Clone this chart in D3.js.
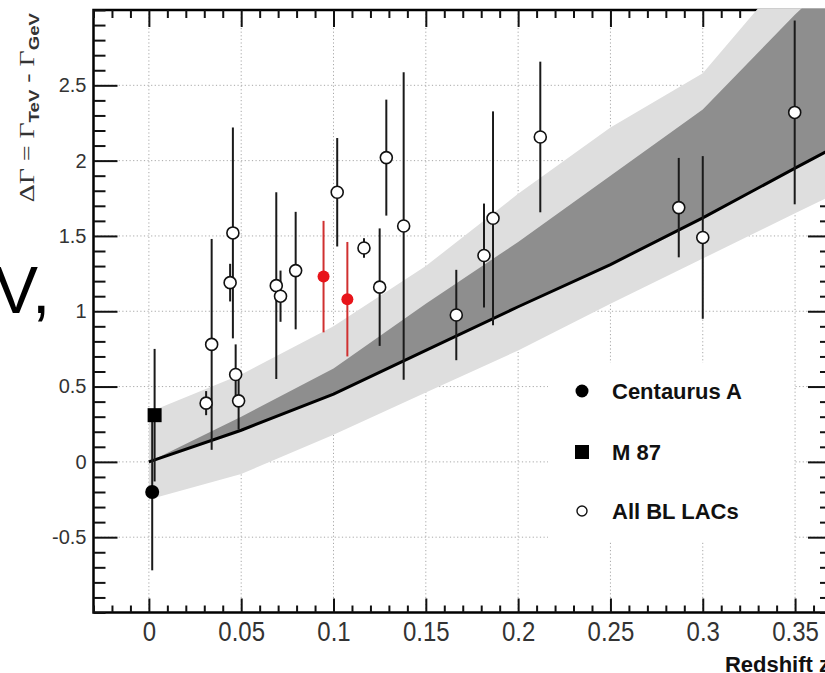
<!DOCTYPE html>
<html>
<head>
<meta charset="utf-8">
<script src="https://cdn.jsdelivr.net/npm/d3@7"></script>
<style>
  html, body { margin: 0; padding: 0; background: #fff; }
  svg { display: block; }
</style>
</head>
<body>
<div id="chart"></div>
<script>
// Model band (EBL absorption prediction) sampled along redshift
const bandZ     = [0, 0.05, 0.1, 0.15, 0.2, 0.25, 0.3, 0.35, 0.37];
const lightLow  = [-0.25, -0.08, 0.18, 0.46, 0.74, 1.05, 1.35, 1.65, 1.77];
const lightHigh = [0.33, 0.58, 0.9, 1.3, 1.78, 2.22, 2.58, 3.3, 3.5];
const darkHigh  = [0.0, 0.30, 0.62, 1.05, 1.46, 1.9, 2.34, 2.97, 3.2];
const eblLine   = [0, 0.21, 0.45, 0.74, 1.03, 1.31, 1.62, 1.95, 2.08];

// All BL LACs (open circles)
const blZ   = [0.031, 0.034, 0.0455, 0.044, 0.047, 0.0486, 0.069, 0.0713, 0.0795, 0.102, 0.1165, 0.125, 0.1286, 0.138, 0.1665, 0.1815, 0.1864, 0.212, 0.287, 0.300, 0.3498];
const blDG  = [0.39, 0.78, 1.52, 1.19, 0.58, 0.405, 1.17, 1.10, 1.27, 1.79, 1.42, 1.16, 2.02, 1.566, 0.975, 1.37, 1.617, 2.157, 1.688, 1.49, 2.32];
const blErr = [0.08, 0.70, 0.70, 0.125, 0.20, 0.19, 0.62, 0.17, 0.39, 0.36, 0.065, 0.39, 0.385, 1.02, 0.30, 0.345, 0.71, 0.50, 0.33, 0.54, 0.61];

// highlighted sources (red)
const redZ   = [0.0946, 0.1075];
const redDG  = [1.23, 1.08];
const redErr = [0.37, 0.38];

// radio galaxies
const cenA = { z: 0.0018, dg: -0.20, err: 0.52 };
const m87  = { z: 0.0031, dg: 0.31, err: 0.44 };

const xMajor = [0, 0.05, 0.1, 0.15, 0.2, 0.25, 0.3, 0.35];
const xLabels = ["0", "0.05", "0.1", "0.15", "0.2", "0.25", "0.3", "0.35"];
const yMajor = [-0.5, 0, 0.5, 1, 1.5, 2, 2.5];
const yLabels = ["-0.5", "0", "0.5", "1", "1.5", "2", "2.5"];
const legendNames = ["Centaurus A", "M 87", "All BL LACs"];

const W = 825, H = 673;
const mLeft = 93.5, mTop = 10, mRight = 832, mBottom = 612.5;

const svg = d3.select("#chart").append("svg")
    .attr("width", W).attr("height", H)
    .style("overflow", "hidden");

const x = d3.scaleLinear().domain([-0.03, 0.37]).range([mLeft, mRight]);
const y = d3.scaleLinear().domain([-1, 3]).range([mBottom, mTop]);

// bands drawn over the frame line at the top edge
svg.append("clipPath").attr("id", "plotclip")
  .append("rect").attr("x", mLeft).attr("y", mTop - 1.5)
  .attr("width", mRight - mLeft).attr("height", mBottom - mTop + 1.5);

// grid
const grid = svg.append("g").attr("stroke", "#a8a8a8").attr("stroke-width", 1)
    .attr("stroke-dasharray", "1.2,2.4");
grid.selectAll(".gx").data(xMajor).enter().append("line")
    .attr("x1", d => x(d)).attr("x2", d => x(d)).attr("y1", mTop).attr("y2", mBottom);
grid.selectAll(".gy").data(yMajor).enter().append("line")
    .attr("x1", mLeft).attr("x2", mRight).attr("y1", d => y(d)).attr("y2", d => y(d));

// frame
svg.append("rect").attr("x", mLeft).attr("y", mTop)
    .attr("width", mRight - mLeft).attr("height", mBottom - mTop)
    .attr("fill", "none").attr("stroke", "#000").attr("stroke-width", 2.5);

const xMinor = d3.range(-3, 38).map(i => i / 100).filter(v => !xMajor.some(m => Math.abs(m - v) < 1e-9));
const yMinor = d3.range(-10, 31).map(i => i / 10).filter(v => !yMajor.some(m => Math.abs(m - v) < 1e-9));

function clean(g) {
  g.select(".domain").remove();
  g.selectAll(".tick line").attr("stroke", "#111").attr("stroke-width", 2);
}

// left axis
svg.append("g").attr("transform", `translate(${mLeft},0)`)
    .call(d3.axisLeft(y).tickValues(yMajor).tickSize(-24).tickPadding(7)
      .tickFormat((d, i) => yLabels[i]))
    .call(clean)
    .call(g => g.selectAll("text").attr("font-size", 20).attr("fill", "#333")
      .attr("font-family", "'Liberation Sans', Arial, sans-serif"));
svg.append("g").attr("transform", `translate(${mLeft},0)`)
    .call(d3.axisLeft(y).tickValues(yMinor).tickSize(-12).tickFormat(""))
    .call(clean);

// right axis
svg.append("g").attr("transform", `translate(${mRight},0)`)
    .call(d3.axisRight(y).tickValues(yMajor).tickSize(-24).tickFormat(""))
    .call(clean);
svg.append("g").attr("transform", `translate(${mRight},0)`)
    .call(d3.axisRight(y).tickValues(yMinor).tickSize(-12).tickFormat(""))
    .call(clean);

// bottom axis
svg.append("g").attr("transform", `translate(0,${mBottom})`)
    .call(d3.axisBottom(x).tickValues(xMajor).tickSize(-14).tickPadding(8)
      .tickFormat((d, i) => xLabels[i]))
    .call(clean)
    .call(g => g.selectAll("text").attr("font-size", 24).attr("fill", "#333")
      .attr("transform", "scale(1,1.15)")
      .attr("font-family", "'Liberation Sans', Arial, sans-serif"));
svg.append("g").attr("transform", `translate(0,${mBottom})`)
    .call(d3.axisBottom(x).tickValues(xMinor).tickSize(-7).tickFormat(""))
    .call(clean);

// top axis
svg.append("g").attr("transform", `translate(0,${mTop})`)
    .call(d3.axisTop(x).tickValues(xMajor).tickSize(-17).tickFormat(""))
    .call(clean);
svg.append("g").attr("transform", `translate(0,${mTop})`)
    .call(d3.axisTop(x).tickValues(xMinor).tickSize(-8).tickFormat(""))
    .call(clean);

// bands
const plot = svg.append("g").attr("clip-path", "url(#plotclip)");
const lightArea = d3.area()
    .x((d, i) => x(bandZ[i]))
    .y0((d, i) => y(lightLow[i]))
    .y1((d, i) => y(lightHigh[i]));
const darkArea = d3.area()
    .x((d, i) => x(bandZ[i]))
    .y0((d, i) => y(eblLine[i]))
    .y1((d, i) => y(darkHigh[i]));
plot.append("path").datum(bandZ).attr("d", lightArea).attr("fill", "#dedede");
plot.append("path").datum(bandZ).attr("d", darkArea).attr("fill", "#8e8e8e");
plot.append("path").datum(bandZ)
    .attr("d", d3.line().x((d, i) => x(bandZ[i])).y((d, i) => y(eblLine[i])))
    .attr("fill", "none").attr("stroke", "#000").attr("stroke-width", 3);

// legend box (covers grid)
svg.append("rect").attr("x", 548).attr("y", 363).attr("width", 246).attr("height", 178)
    .attr("fill", "#fff");

// error bars
const bars = svg.append("g").attr("stroke-width", 2);
bars.selectAll(".eb").data(blZ).enter().append("line")
    .attr("stroke", "#1a1a1a")
    .attr("x1", d => x(d)).attr("x2", d => x(d))
    .attr("y1", (d, i) => y(blDG[i] - blErr[i])).attr("y2", (d, i) => y(blDG[i] + blErr[i]));
bars.selectAll(".er").data(redZ).enter().append("line")
    .attr("stroke", "#d03030")
    .attr("x1", d => x(d)).attr("x2", d => x(d))
    .attr("y1", (d, i) => y(redDG[i] - redErr[i])).attr("y2", (d, i) => y(redDG[i] + redErr[i]));
[cenA, m87].forEach(s => {
  bars.append("line").attr("stroke", "#1a1a1a")
    .attr("x1", x(s.z)).attr("x2", x(s.z))
    .attr("y1", y(s.dg - s.err)).attr("y2", y(s.dg + s.err));
});

// markers
svg.append("g").selectAll("circle").data(blZ).enter().append("circle")
    .attr("cx", d => x(d)).attr("cy", (d, i) => y(blDG[i])).attr("r", 6)
    .attr("fill", "#fff").attr("stroke", "#111").attr("stroke-width", 1.6);
svg.append("g").selectAll("circle").data(redZ).enter().append("circle")
    .attr("cx", d => x(d)).attr("cy", (d, i) => y(redDG[i])).attr("r", 6)
    .attr("fill", "#e8141a");
svg.append("circle").attr("cx", x(cenA.z)).attr("cy", y(cenA.dg)).attr("r", 7).attr("fill", "#000");
svg.append("rect").attr("x", x(m87.z) - 7).attr("y", y(m87.dg) - 7)
    .attr("width", 14).attr("height", 14).attr("fill", "#000");

// legend
const lg = svg.append("g");
const legendY = [391, 452, 511];
lg.append("circle").attr("cx", 582).attr("cy", legendY[0]).attr("r", 6.5).attr("fill", "#000");
lg.append("rect").attr("x", 575).attr("y", legendY[1] - 7).attr("width", 14).attr("height", 14).attr("fill", "#000");
lg.append("circle").attr("cx", 582).attr("cy", legendY[2]).attr("r", 5)
    .attr("fill", "#fff").attr("stroke", "#111").attr("stroke-width", 1.4);
lg.selectAll("text").data(legendNames).enter().append("text")
    .attr("x", 612).attr("y", (d, i) => legendY[i] + 8)
    .attr("font-family", "'Liberation Sans', Arial, sans-serif")
    .attr("font-weight", "bold").attr("font-size", 22).attr("fill", "#111")
    .text(d => d);

// axis titles
svg.append("text").attr("x", 830).attr("y", 672).attr("text-anchor", "end")
    .attr("font-family", "'Liberation Sans', Arial, sans-serif")
    .attr("font-weight", "bold").attr("font-size", 22).attr("fill", "#111")
    .text("Redshift z");

const yt = svg.append("text").attr("transform", "translate(34,13) rotate(-90) scale(1.33,1)")
    .attr("text-anchor", "end").attr("fill", "#333")
    .attr("font-family", "'Liberation Serif', 'Times New Roman', serif").attr("font-size", 21);
yt.append("tspan").text("ΔΓ = Γ");
yt.append("tspan").attr("dy", 5).attr("font-size", 14).attr("font-weight", "bold")
    .attr("font-family", "'Liberation Sans', Arial, sans-serif").text("TeV");
yt.append("tspan").attr("dy", -5).text(" - Γ");
yt.append("tspan").attr("dy", 5).attr("font-size", 14).attr("font-weight", "bold")
    .attr("font-family", "'Liberation Sans', Arial, sans-serif").text("GeV");

// slide text cut at the left edge
svg.append("text").attr("x", -6).attr("y", 313)
    .attr("font-family", "'Liberation Sans', Arial, sans-serif")
    .attr("font-size", 66).attr("fill", "#000").text("V,");
</script>
</body>
</html>
